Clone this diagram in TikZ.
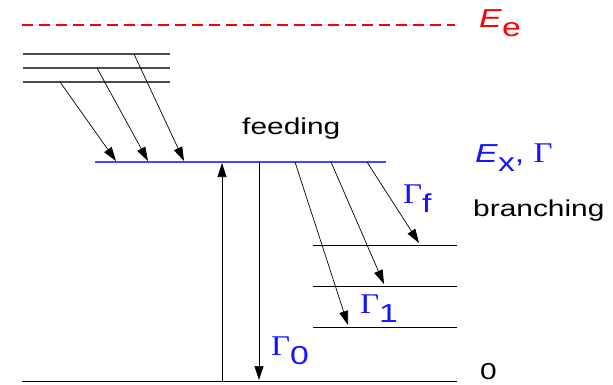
\documentclass[tikz,border=0pt]{standalone}
\usepackage{fontspec}
\setmainfont{Liberation Sans}[FakeStretch=1.3]
\newfontfamily\greekfont{Liberation Serif}[FakeStretch=1.15, Scale=1.1]
\usepackage{xcolor}
\usetikzlibrary{arrows.meta}
\definecolor{levelblue}{RGB}{70,70,255}
\definecolor{labelblue}{RGB}{20,20,255}
\newcommand{\lowsub}[1]{\raisebox{-0.36em}{#1}}
\newcommand{\Gam}{{\greekfont Γ}}

\begin{document}
\begin{tikzpicture}[x=1pt, y=-1pt,
    level/.style={black, line width=1pt},
    upper/.style={black!70, line width=1.4pt},
    state/.style={levelblue, line width=1.2pt},
    escape/.style={draw=red, line width=1.2pt, dash pattern=on 11pt off 6pt},
    gamma/.style={-{Triangle[length=14pt,width=9pt]}, black, line width=0.7pt},
    txt/.style={anchor=base west, inner sep=0pt, font=\fontsize{23}{27}\selectfont},
    lbl/.style={anchor=base west, inner sep=0pt, font=\fontsize{26}{30}\selectfont}
]
\useasboundingbox (0,0) rectangle (613,384);
% levels
\draw[escape] (22,25) -- (455,25);
\draw[upper] (23,54) -- (170,54);
\draw[upper] (23,68) -- (170,68);
\draw[upper] (23,82) -- (170,82);
\draw[state] (95,162) -- (386,162);
\draw[level] (313,245) -- (457,245);
\draw[level] (313,286) -- (457,286);
\draw[level] (313,327) -- (457,327);
\draw[level] (22,381) -- (457,381);
% arrow end points
\coordinate (f1s) at (60,82);   \coordinate (f1e) at (116,161);
\coordinate (f2s) at (97,68);   \coordinate (f2e) at (148,161);
\coordinate (f3s) at (134,54);  \coordinate (f3e) at (184,161);
\coordinate (exc) at (222,381); \coordinate (exe) at (222,163);
\coordinate (g0s) at (259,162); \coordinate (g0e) at (259,380);
\coordinate (b1s) at (295,162); \coordinate (b1e) at (348,325);
\coordinate (b2s) at (331,162); \coordinate (b2e) at (384,284);
\coordinate (b3s) at (367,162); \coordinate (b3e) at (419,243);
% feeding
\draw[gamma] (f1s) -- (f1e);
\draw[gamma] (f2s) -- (f2e);
\draw[gamma] (f3s) -- (f3e);
% excitation and ground-state decay
\draw[gamma] (exc) -- (exe);
\draw[gamma] (g0s) -- (g0e);
% branching
\draw[gamma] (b1s) -- (b1e);
\draw[gamma] (b2s) -- (b2e);
\draw[gamma] (b3s) -- (b3e);
% labels
\node[lbl, red] (ee) at (479,27) {\textit{E}\lowsub{e}};
\node[lbl, labelblue] (ex) at (475,162) {\textit{E}\lowsub{x}, \Gam};
\node[txt] (feed) at (242,134) {feeding};
\node[txt] (branch) at (473,216) {branching};
\node[lbl, labelblue] (gf) at (403,203) {\Gam\lowsub{f}};
\node[lbl, labelblue] (g1) at (360,313) {\Gam\lowsub{1}};
\node[lbl, labelblue] (g0) at (271,355) {\Gam\lowsub{0}};
\node[txt] (zero) at (480,379) {0};
\end{tikzpicture}
\end{document}
